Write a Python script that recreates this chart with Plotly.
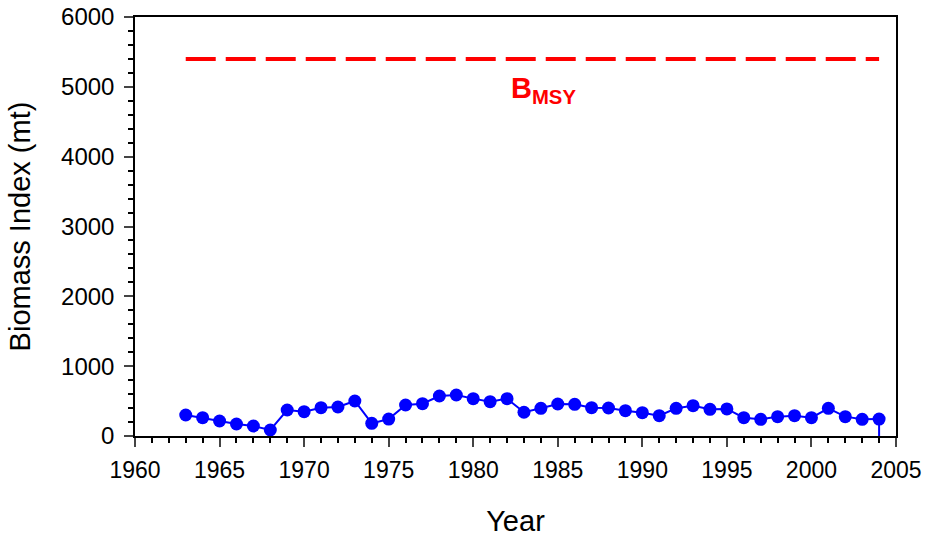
import plotly.graph_objects as go

years = list(range(1963, 2005))
biomass = [301, 262, 215, 172, 143, 86, 372, 348, 405, 415, 501, 181, 243, 444, 463,
           573, 587, 535, 492, 535, 340, 397, 458, 454, 405, 401, 362, 334, 291, 397,
           434, 382, 387, 262, 239, 277, 291, 262, 397, 277, 239, 243]
bmsy = 5400
bmsy_years = [1963, 2004]
x_ticks = [1960, 1965, 1970, 1975, 1980, 1985, 1990, 1995, 2000, 2005]
y_ticks = [0, 1000, 2000, 3000, 4000, 5000, 6000]

font = "Liberation Sans, Arial, sans-serif"

fig = go.Figure()
fig.add_trace(go.Scatter(
    x=bmsy_years, y=[bmsy, bmsy], mode="lines",
    line=dict(color="#ff0000", width=4, dash="30px,10px"),
    showlegend=False, hoverinfo="skip"))
# vertical drop of the series line at its last year
fig.add_trace(go.Scatter(
    x=[years[-1], years[-1]], y=[biomass[-1], 0], mode="lines",
    line=dict(color="#0000ff", width=2), showlegend=False, hoverinfo="skip"))
fig.add_trace(go.Scatter(
    x=years, y=biomass, mode="lines+markers",
    line=dict(color="#0000ff", width=2),
    marker=dict(color="#0000ff", size=13),
    showlegend=False))

fig.add_annotation(x=1984.15, y=4950, text="<b>B<sub>MSY</sub></b>", showarrow=False,
                   font=dict(family=font, size=29, color="#ff0000"))

fig.update_layout(
    width=927, height=537,
    margin=dict(l=135, r=31, t=17, b=101, autoexpand=False),
    paper_bgcolor="white", plot_bgcolor="white",
    font=dict(family=font, size=24, color="black"),
    xaxis=dict(
        range=[1960, 2005], tickvals=x_ticks, ticks="outside", ticklen=9, tickwidth=1.5,
        showgrid=False, zeroline=False, showline=True, linecolor="black", linewidth=1.5,
        mirror=True, automargin=False, ticklabelstandoff=4,
        minor=dict(dtick=1, ticks="outside", ticklen=5, tickwidth=1.5, tickcolor="black"),
        title=dict(text="Year", font=dict(size=29), standoff=30),
        tickfont=dict(size=23)),
    yaxis=dict(
        range=[0, 6000], tickvals=y_ticks, ticks="outside", ticklen=9, tickwidth=1.5,
        showgrid=False, zeroline=False, showline=True, linecolor="black", linewidth=1.5,
        mirror=True, automargin=False, ticklabelstandoff=5,
        minor=dict(dtick=200, ticks="outside", ticklen=5, tickwidth=1.5, tickcolor="black"),
        title=dict(text="Biomass Index (mt)", font=dict(size=29), standoff=22),
        tickfont=dict(size=24)),
)

fig.write_html("out.html", config={"displayModeBar": False},
               post_script="document.body.style.margin='0';")
